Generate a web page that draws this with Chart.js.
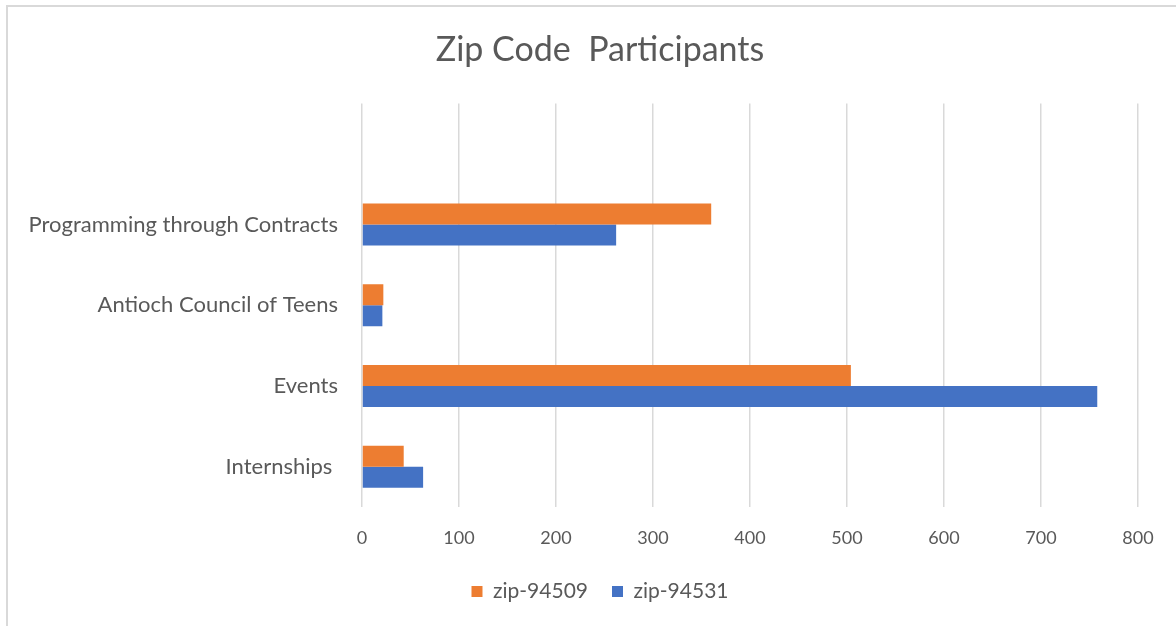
<!DOCTYPE html>
<html>
<head>
<meta charset="utf-8">
<script src="https://cdn.jsdelivr.net/npm/chart.js@4"></script>
<style>
  html, body { margin: 0; padding: 0; background: #ffffff; }
  #frame {
    position: absolute;
    left: 6px;
    top: 5px;
    width: 1170px;
    height: 621px;
    border-left: 2px solid #d9d9d9;
    border-top: 2px solid #d9d9d9;
  }
  #zipChart { display: block; }
</style>
</head>
<body>
<div id="frame"><canvas id="zipChart" width="1168" height="619"></canvas></div>
<script>
/*****************************************************************
 *                          CHART DATA
 *****************************************************************/

// top row is an empty category, as in the original sheet
const programs = [
  "",
  "Programming through Contracts",
  "Antioch Council of Teens",
  "Events",
  "Internships ",
];
const zip94509 = [null, 360, 22, 504, 43];
const zip94531 = [null, 262, 21, 758, 63];
const xTicks = [0, 100, 200, 300, 400, 500, 600, 700, 800];

/*****************************************************************
 *                          SETTINGS
 *****************************************************************/

const textColor = "#595959";
const fontFamily = "Lato, 'Open Sans', sans-serif";

function makeDataSets() {
  return [
    {
      label: "zip-94509",
      data: zip94509,
      backgroundColor: "#ED7D31",
      borderWidth: 0,
    },
    {
      label: "zip-94531",
      data: zip94531,
      backgroundColor: "#4472C4",
      borderWidth: 0,
    },
  ];
}

function makeScales() {
  return {
    x: {
      min: xTicks[0],
      max: xTicks[xTicks.length - 1],
      afterBuildTicks: (scale) => {
        scale.ticks = xTicks.map((v) => ({ value: v }));
      },
      afterFit: (scale) => {
        scale.height = 50;
        scale.paddingRight = 38; // room on the right of the plot only
      },
      grid: { color: "#d9d9d9", lineWidth: 1.5, drawTicks: false },
      border: { display: false },
      ticks: {
        padding: 20,
        color: textColor,
        font: { family: fontFamily, size: 18 },
      },
    },
    y: {
      afterFit: (scale) => {
        scale.width = 338;
      },
      grid: { display: false, drawTicks: false },
      border: { display: false },
      ticks: {
        padding: 24,
        color: textColor,
        font: { family: fontFamily, size: 22 },
      },
    },
  };
}

function makePlugins() {
  return {
    title: {
      display: true,
      text: "Zip Code  Participants",
      color: textColor,
      padding: { top: 24, bottom: 35 },
      font: { family: fontFamily, size: 34, weight: "normal", lineHeight: 1.1 },
    },
    legend: {
      position: "bottom",
      labels: {
        color: textColor,
        boxWidth: 11,
        boxHeight: 11,
        padding: 24,
        font: { family: fontFamily, size: 21 },
      },
    },
    tooltip: { enabled: false },
  };
}

/*****************************************************************
 *                          RENDER
 *****************************************************************/

function drawZipChart() {
  const config = {
    type: "bar",
    data: { labels: programs, datasets: makeDataSets() },
    options: {
      indexAxis: "y",
      responsive: false,
      animation: false,
      categoryPercentage: 0.52,
      barPercentage: 1.0,
      layout: { padding: { left: 16, right: 0, top: 0, bottom: 14 } },
      scales: makeScales(),
      plugins: makePlugins(),
    },
  };
  new Chart(document.getElementById("zipChart"), config);
}

drawZipChart();
</script>
</body>
</html>
